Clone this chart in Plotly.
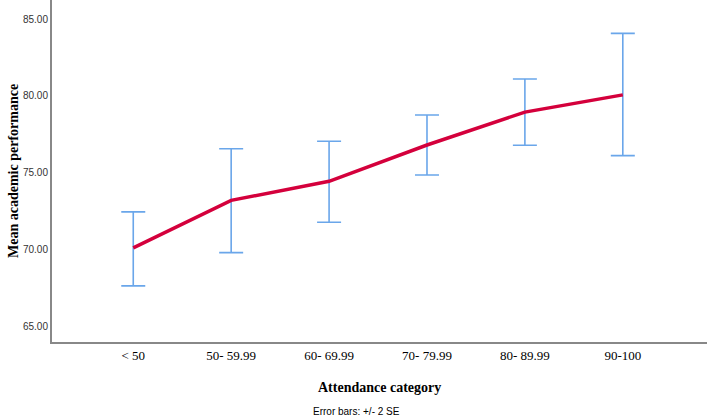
import plotly.graph_objects as go

categories = ["< 50", "50- 59.99", "60- 69.99", "70- 79.99", "80- 89.99", "90-100"]
means = [70.12, 73.21, 74.45, 76.81, 78.95, 80.07]
upper = [72.46, 76.57, 77.05, 78.76, 81.10, 84.07]
lower = [67.65, 69.81, 71.79, 74.86, 76.79, 76.12]
y_ticks = [65, 70, 75, 80, 85]

xpos = list(range(len(categories)))
err_plus = [u - m for u, m in zip(upper, means)]
err_minus = [m - l for m, l in zip(means, lower)]

fig = go.Figure()
fig.add_trace(go.Scatter(
    x=xpos, y=means, mode="markers",
    marker=dict(size=1, color="rgba(0,0,0,0)"),
    error_y=dict(type="data", symmetric=False, array=err_plus, arrayminus=err_minus,
                 color="#6aa6ea", thickness=1.6, width=12),
    showlegend=False, hoverinfo="skip"))
fig.add_trace(go.Scatter(
    x=xpos, y=means, mode="lines",
    line=dict(color="#d4003c", width=3.5),
    showlegend=False))

fig.update_layout(
    width=707, height=416,
    margin=dict(l=52, r=0, t=0, b=74),
    paper_bgcolor="white", plot_bgcolor="white",
    xaxis=dict(range=[-0.83, 5.86], tickvals=xpos, ticktext=categories,
               showgrid=False, zeroline=False, showline=True, linecolor="#888888",
               linewidth=2, ticks="", tickfont=dict(family="Liberation Serif", size=13, color="black")),
    yaxis=dict(range=[64.0, 86.24], tickvals=y_ticks, tickformat=".2f",
               showgrid=False, zeroline=False, showline=True, linecolor="#888888",
               linewidth=2, ticks="", tickfont=dict(family="Liberation Sans", size=10, color="#333333")),
    annotations=[
        dict(text="<b>Mean academic performance</b>", xref="paper", yref="paper",
             x=-0.0, y=0.5, xanchor="center", yanchor="middle", xshift=-39, textangle=-90,
             showarrow=False, font=dict(family="Liberation Serif", size=14, color="black")),
        dict(text="<b>Attendance category</b>", xref="paper", yref="paper",
             x=0.5, y=0, yanchor="middle", xanchor="center", yshift=-45,
             showarrow=False, font=dict(family="Liberation Serif", size=14, color="black")),
        dict(text="Error bars: +/- 2 SE", xref="paper", yref="paper",
             x=0.5, y=0, yanchor="middle", xanchor="center", yshift=-69, xshift=-23,
             showarrow=False, font=dict(family="Liberation Sans", size=10, color="black")),
    ],
)

fig.write_html("out.html", config={"displayModeBar": False},
               post_script="document.body.style.margin='0';document.body.style.overflow='hidden';")
